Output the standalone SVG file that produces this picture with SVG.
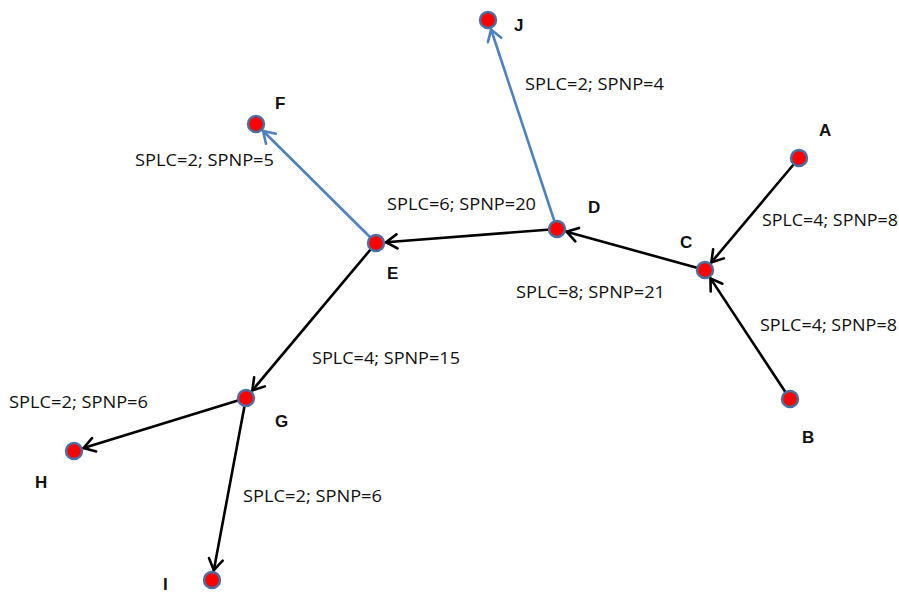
<svg xmlns="http://www.w3.org/2000/svg" width="899" height="594" viewBox="0 0 899 594">
  <style>
    .edge { fill: none; stroke-width: 2.6; stroke-linecap: round; }
    .blk { stroke: #000; marker-end: url(#arrowBlack); }
    .blu { stroke: #4f81bd; marker-end: url(#arrowBlue); }
    .node circle { fill: #ff0000; stroke: #4a6fa0; stroke-width: 2.5; }
    .name { font-family: "Liberation Sans", Arial, sans-serif; font-weight: bold; font-size: 17px; fill: #111; }
    .lbl { font-family: "Open Sans", "Liberation Sans", sans-serif; font-size: 16.5px; fill: #111; }
  </style>
  <defs>
    <marker id="arrowBlack" markerUnits="userSpaceOnUse" viewBox="-14 -9 16 18" markerWidth="16" markerHeight="18" refX="0" refY="0" orient="auto">
      <path d="M-11,-7 L0,0 L-11,7" fill="none" stroke="#000" stroke-width="2.6" stroke-linecap="round" stroke-linejoin="miter"/>
    </marker>
    <marker id="arrowBlue" markerUnits="userSpaceOnUse" viewBox="-14 -9 16 18" markerWidth="16" markerHeight="18" refX="0" refY="0" orient="auto">
      <path d="M-11,-7 L0,0 L-11,7" fill="none" stroke="#4f81bd" stroke-width="2.6" stroke-linecap="round" stroke-linejoin="miter"/>
    </marker>
  </defs>

  <rect width="899" height="594" fill="#fff"/>

  <!-- connectors -->
  <g id="connectors">
    <line class="edge blk" x1="799" y1="158" x2="711.4" y2="262.3"/>
    <line class="edge blk" x1="790" y1="399" x2="710.5" y2="278.4"/>
    <line class="edge blk" x1="705" y1="270" x2="566.6" y2="231.7"/>
    <line class="edge blk" x1="557" y1="229" x2="386" y2="242.2"/>
    <line class="edge blu" x1="557" y1="229" x2="491.1" y2="29.5"/>
    <line class="edge blu" x1="376" y1="243" x2="263.1" y2="131"/>
    <line class="edge blk" x1="376" y1="243" x2="252.4" y2="390.3"/>
    <line class="edge blk" x1="246" y1="398" x2="83.6" y2="448"/>
    <line class="edge blk" x1="246" y1="398" x2="213.8" y2="570.2"/>
  </g>

  <!-- edge labels -->
  <g id="edge-labels">
    <text class="lbl" x="525" y="90" textLength="139" lengthAdjust="spacingAndGlyphs">SPLC=2; SPNP=4</text>
    <text class="lbl" x="135" y="166" textLength="139" lengthAdjust="spacingAndGlyphs">SPLC=2; SPNP=5</text>
    <text class="lbl" x="387" y="210" textLength="149" lengthAdjust="spacingAndGlyphs">SPLC=6; SPNP=20</text>
    <text class="lbl" x="762" y="226" textLength="136" lengthAdjust="spacingAndGlyphs">SPLC=4; SPNP=8</text>
    <text class="lbl" x="516" y="298" textLength="149" lengthAdjust="spacingAndGlyphs">SPLC=8; SPNP=21</text>
    <text class="lbl" x="760" y="331" textLength="137" lengthAdjust="spacingAndGlyphs">SPLC=4; SPNP=8</text>
    <text class="lbl" x="312" y="364" textLength="148" lengthAdjust="spacingAndGlyphs">SPLC=4; SPNP=15</text>
    <text class="lbl" x="9" y="408" textLength="139" lengthAdjust="spacingAndGlyphs">SPLC=2; SPNP=6</text>
    <text class="lbl" x="243" y="502" textLength="139" lengthAdjust="spacingAndGlyphs">SPLC=2; SPNP=6</text>
  </g>

  <!-- nodes -->
  <g id="node-A" class="node"><circle cx="799" cy="158" r="8"/><text class="name" x="819" y="136">A</text></g>
  <g id="node-B" class="node"><circle cx="790" cy="399" r="8"/><text class="name" x="802" y="443">B</text></g>
  <g id="node-C" class="node"><circle cx="705" cy="270" r="8"/><text class="name" x="680" y="248">C</text></g>
  <g id="node-D" class="node"><circle cx="557" cy="229" r="8"/><text class="name" x="588" y="213">D</text></g>
  <g id="node-E" class="node"><circle cx="376" cy="243" r="8"/><text class="name" x="387" y="279">E</text></g>
  <g id="node-F" class="node"><circle cx="256" cy="124" r="8"/><text class="name" x="275" y="109">F</text></g>
  <g id="node-G" class="node"><circle cx="246" cy="398" r="8"/><text class="name" x="275" y="427">G</text></g>
  <g id="node-H" class="node"><circle cx="74" cy="451" r="8"/><text class="name" x="35" y="488">H</text></g>
  <g id="node-I" class="node"><circle cx="212" cy="580" r="8"/><text class="name" x="163" y="590">I</text></g>
  <g id="node-J" class="node"><circle cx="488" cy="20" r="8"/><text class="name" x="514" y="31">J</text></g>
</svg>
